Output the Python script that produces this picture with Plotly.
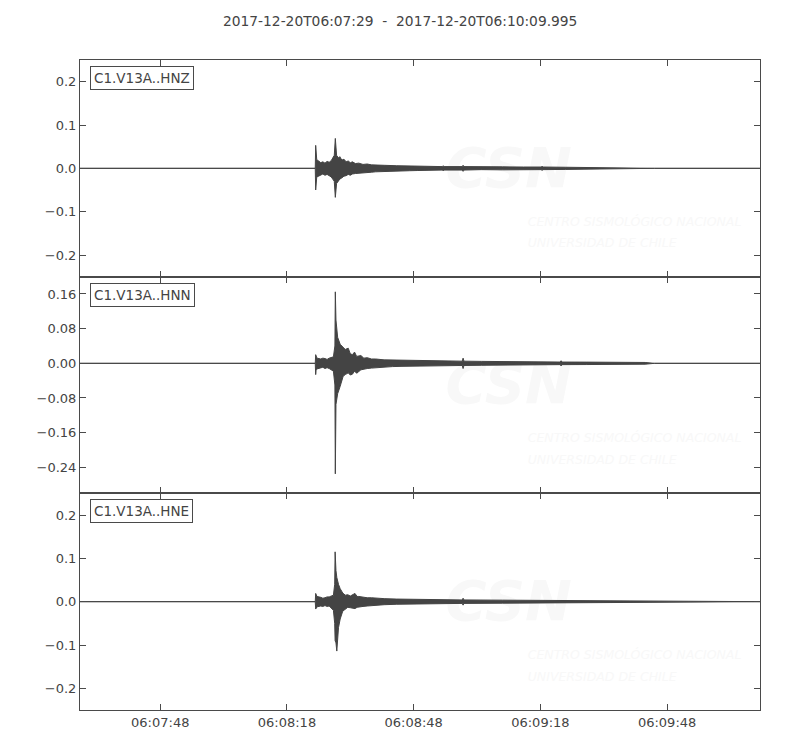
import datetime as dt
import plotly.graph_objects as go
from plotly.subplots import make_subplots

START = dt.datetime(2017, 12, 20, 6, 7, 29)
END_S = 160.995
TITLE = "2017-12-20T06:07:29  -  2017-12-20T06:10:09.995"

channels = ["C1.V13A..HNZ", "C1.V13A..HNN", "C1.V13A..HNE"]

# Envelope of each trace: seconds after start, upper, lower
hnz_t = [0, 55.7, 55.8, 55.9, 56.05, 56.5, 57.0, 57.5, 58.0, 58.5, 59.0, 59.5, 60.2, 60.45, 60.75,
         61.2, 61.5, 62.0, 62.5, 63.0, 63.5, 64.0, 64.5, 65.2, 66, 67, 68, 69, 70, 72, 75, 78, 80,
         85.8, 86.0, 86.2, 90.5, 90.7, 90.9, 95, 100, 105, 109.2, 109.4, 109.6, 115, 120, 125,
         133.8, 136, 160.995]
hnz_up = [0, 0, 0.053, 0.030, 0.020, 0.017, 0.013, 0.015, 0.012, 0.016, 0.014, 0.018, 0.030, 0.069, 0.030,
          0.024, 0.027, 0.019, 0.021, 0.015, 0.017, 0.013, 0.015, 0.011, 0.012, 0.009, 0.010, 0.008, 0.008, 0.007, 0.006, 0.0055, 0.005,
          0.004, 0.006, 0.004, 0.004, 0.007, 0.004, 0.003, 0.0035, 0.003, 0.003, 0.005, 0.003, 0.0025, 0.002, 0.002,
          0.0015, 0, 0]
hnz_lo = [0, 0, -0.050, -0.030, -0.020, -0.018, -0.016, -0.013, -0.016, -0.014, -0.017, -0.020, -0.030, -0.067, -0.035,
          -0.028, -0.025, -0.022, -0.018, -0.017, -0.014, -0.016, -0.013, -0.012, -0.011, -0.010, -0.009, -0.009, -0.008, -0.007, -0.006, -0.0055, -0.005,
          -0.004, -0.006, -0.004, -0.004, -0.007, -0.004, -0.003, -0.0035, -0.003, -0.003, -0.005, -0.003, -0.0025, -0.002, -0.002,
          -0.0015, 0, 0]

hnn_t = [0, 55.7, 55.8, 55.9, 56.1, 57, 57.5, 58, 58.5, 59, 60.0, 60.35, 60.45, 60.6, 61.0, 61.6,
         62.3, 62.8, 63.5, 64.0, 64.5, 65.0, 65.5, 66.5, 67.2, 68, 69, 70, 72, 74, 76, 80, 84,
         90.5, 90.7, 90.9, 95, 100, 107, 113.7, 113.9, 114.1, 120, 125, 133.8, 136, 160.995]
hnn_up = [0, 0, 0.020, 0.014, 0.012, 0.010, 0.012, 0.011, 0.009, 0.012, 0.015, 0.040, 0.165, 0.100, 0.060, 0.044,
          0.038, 0.032, 0.035, 0.022, 0.020, 0.026, 0.016, 0.018, 0.012, 0.013, 0.010, 0.010, 0.008, 0.0075, 0.007, 0.0065, 0.006,
          0.005, 0.012, 0.005, 0.0045, 0.004, 0.0035, 0.003, 0.006, 0.003, 0.0028, 0.0025, 0.002, 0, 0]
hnn_lo = [0, 0, -0.026, -0.015, -0.013, -0.011, -0.009, -0.012, -0.010, -0.012, -0.018, -0.050, -0.255, -0.095, -0.070, -0.053,
          -0.030, -0.026, -0.022, -0.027, -0.025, -0.018, -0.023, -0.015, -0.013, -0.012, -0.011, -0.010, -0.008, -0.0075, -0.007, -0.0065, -0.006,
          -0.005, -0.012, -0.005, -0.0045, -0.004, -0.0035, -0.003, -0.006, -0.003, -0.0028, -0.0025, -0.002, 0, 0]

hne_t = [0, 55.7, 55.8, 55.9, 56.1, 57, 57.5, 58, 58.5, 59, 60.0, 60.3, 60.4, 60.6, 60.8, 61.2, 61.6,
         62.2, 62.8, 63.4, 64, 65.1, 65.6, 66, 67, 68, 69, 70, 72, 75, 80, 85, 90.5, 90.7, 90.9,
         100, 110, 120, 133.8, 150, 158, 160.995]
hne_up = [0, 0, 0.019, 0.014, 0.012, 0.010, 0.008, 0.009, 0.011, 0.011, 0.015, 0.040, 0.115, 0.072, 0.056, 0.040, 0.030,
          0.020, 0.015, 0.016, 0.013, 0.019, 0.012, 0.012, 0.010, 0.009, 0.009, 0.008, 0.007, 0.006, 0.0055, 0.005, 0.004, 0.008, 0.004,
          0.0035, 0.003, 0.0025, 0.002, 0.0015, 0.001, 0]
hne_lo = [0, 0, -0.017, -0.014, -0.012, -0.010, -0.011, -0.009, -0.011, -0.010, -0.020, -0.050, -0.090, -0.095, -0.114, -0.060, -0.040,
          -0.022, -0.017, -0.013, -0.014, -0.016, -0.013, -0.012, -0.011, -0.010, -0.009, -0.008, -0.007, -0.006, -0.0055, -0.005, -0.004, -0.008, -0.004,
          -0.0035, -0.003, -0.0025, -0.002, -0.0015, -0.001, 0]

y_ranges = [[-0.25, 0.25], [-0.30, 0.20], [-0.25, 0.25]]
y_dticks = [0.1, 0.08, 0.1]
y_formats = [".1f", ".2f", ".1f"]

envelopes = [(hnz_t, hnz_up, hnz_lo), (hnn_t, hnn_up, hnn_lo), (hne_t, hne_up, hne_lo)]

INK = "#444444"
FRAME = "#4a4a4a"
WM = "#f8f8f8"


def to_time(seconds):
    return [START + dt.timedelta(seconds=s) for s in seconds]


fig = make_subplots(rows=3, cols=1, shared_xaxes=True, vertical_spacing=0)

for i, ((t, up, lo), yr) in enumerate(zip(envelopes, y_ranges), start=1):
    span = yr[1] - yr[0]
    # faint watermark (beneath the trace)
    fig.add_trace(go.Scatter(
        x=to_time([101.5]), y=[yr[1] - 0.52 * span], mode="text", text=["CSN"],
        textfont=dict(family="DejaVu Sans", size=56, color=WM, weight="bold", style="italic"),
        hoverinfo="skip", showlegend=False), row=i, col=1)
    fig.add_trace(go.Scatter(
        x=to_time([106.0, 106.0]), y=[yr[1] - 0.75 * span, yr[1] - 0.85 * span], mode="text",
        text=["CENTRO SISMOLÓGICO NACIONAL", "UNIVERSIDAD DE CHILE"], textposition="middle right",
        textfont=dict(family="DejaVu Sans", size=12.5, color=WM, style="italic"),
        hoverinfo="skip", showlegend=False), row=i, col=1)
    # waveform envelope
    fig.add_trace(go.Scatter(x=to_time(t), y=up, mode="lines", line=dict(color=INK, width=1),
                             hoverinfo="skip", showlegend=False), row=i, col=1)
    fig.add_trace(go.Scatter(x=to_time(t), y=lo, mode="lines", line=dict(color=INK, width=1),
                             fill="tonexty", fillcolor=INK, hoverinfo="skip", showlegend=False),
                  row=i, col=1)

axis_common = dict(showline=True, linecolor=FRAME, linewidth=1, mirror="allticks",
                   ticks="inside", ticklen=6, tickcolor=FRAME, tickwidth=1,
                   showgrid=False, zeroline=False,
                   tickfont=dict(family="DejaVu Sans", size=13, color=INK))

for i in range(1, 4):
    fig.update_xaxes(row=i, col=1, type="date",
                     range=[START, START + dt.timedelta(seconds=END_S)],
                     tick0=START + dt.timedelta(seconds=19), dtick=30000,
                     tickformat="%H:%M:%S", **axis_common)
    fig.update_yaxes(row=i, col=1, range=y_ranges[i - 1], dtick=y_dticks[i - 1], tick0=0,
                     tickformat=y_formats[i - 1], **axis_common)
    fig.add_annotation(text=channels[i - 1], xref=f"x{'' if i == 1 else i} domain",
                       yref=f"y{'' if i == 1 else i} domain", x=0.015, y=0.972,
                       xanchor="left", yanchor="top", showarrow=False,
                       font=dict(family="DejaVu Sans", size=13.5, color=INK),
                       bordercolor=FRAME, borderwidth=1, borderpad=3, bgcolor="white")

fig.add_annotation(text=TITLE, xref="paper", yref="paper", x=0.4706, y=1.0, yshift=39,
                   xanchor="center", yanchor="middle", showarrow=False,
                   font=dict(family="DejaVu Sans", size=13.8, color=INK))

fig.update_layout(width=800, height=750, margin=dict(l=72, r=48, t=52, b=48),
                  plot_bgcolor="white", paper_bgcolor="white", showlegend=False)

fig.write_html("out.html")
